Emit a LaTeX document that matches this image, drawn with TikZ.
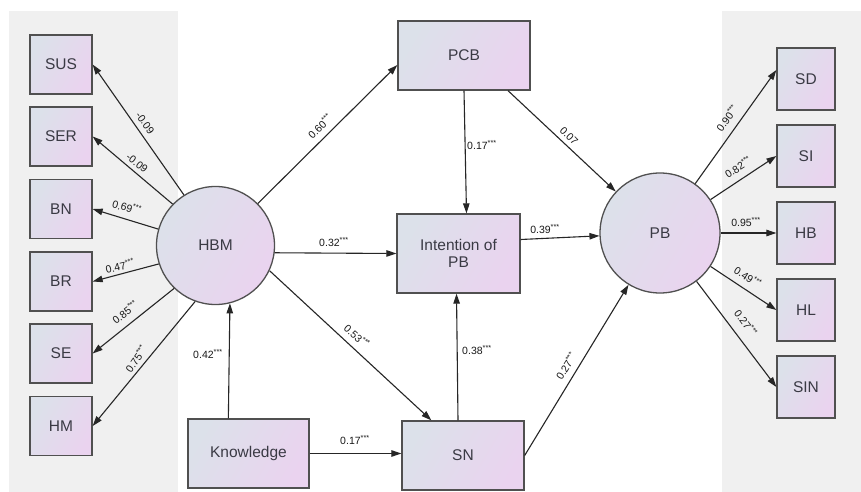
\documentclass[tikz,border=0pt]{standalone}
\usepackage{fontspec}
\setmainfont{Liberation Sans}
\usetikzlibrary{arrows.meta,calc}
\definecolor{panel}{HTML}{F0F0F0}
\definecolor{ca}{HTML}{DCE1EA}
\definecolor{cb}{HTML}{EAD3EF}
\definecolor{edgec}{HTML}{505050}
\definecolor{txt}{HTML}{3A3A44}
\newcommand{\st}{\textsuperscript{***}}
\begin{document}
\begin{tikzpicture}[x=1pt,y=-1pt,
  shapebase/.style={draw=edgec, line width=1.3pt, left color=ca, right color=cb, shading angle=60,
    inner sep=0pt, text=txt, align=center, font=\fontsize{15.5}{17}\selectfont},
  smallbox/.style={shapebase, rectangle, minimum width=62pt, minimum height=59pt},
  rbox/.style={shapebase, rectangle, minimum width=58pt, minimum height=62pt},
  bigbox/.style={shapebase, rectangle},
  lat/.style={shapebase, circle},
  arr/.style={draw=black!85, line width=1.1pt, -{Triangle[length=10pt,width=6.5pt]}},
  lbl/.style={inner sep=0.5pt, text=black!90, font=\fontsize{10.5}{11}\selectfont}]
\useasboundingbox (0,0) rectangle (861,492);
\fill[white] (0,0) rectangle (861,492);
\fill[panel] (9,11) rectangle (178,492);
\fill[panel] (722,11) rectangle (861,492);

% left indicators
\node[smallbox] (SUS) at (61,64.5) {SUS};
\node[smallbox] (SER) at (61,136.5) {SER};
\node[smallbox] (BN) at (61,209) {BN};
\node[smallbox] (BR) at (61,281.5) {BR};
\node[smallbox] (SE) at (61,353.5) {SE};
\node[smallbox] (HM) at (61,426) {HM};

% right indicators
\node[rbox] (SD) at (806,79) {SD};
\node[rbox] (SI) at (806,156) {SI};
\node[rbox] (HB) at (806,233) {HB};
\node[rbox] (HL) at (806,310) {HL};
\node[rbox] (SIN) at (806,387) {SIN};

% latent variables
\node[lat, minimum size=118pt] (HBM) at (215.5,245.5) {HBM};
\node[lat, minimum size=120pt] (PB) at (660,233) {PB};

% constructs
\node[bigbox, minimum width=132pt, minimum height=69pt] (PCB) at (464,55.5) {PCB};
\node[bigbox, minimum width=123pt, minimum height=79pt] (INT) at (458.5,253.5) {Intention of\\PB};
\node[bigbox, minimum width=121pt, minimum height=69pt] (KN) at (248.5,453.5) {Knowledge};
\node[bigbox, minimum width=122pt, minimum height=69pt] (SN) at (463,455.5) {SN};

% HBM -> indicators
\draw[arr] (HBM.122) -- (SUS.east);
\draw[arr] (HBM.136) -- (SER.east);
\draw[arr] (HBM.164) -- (BN.east);
\draw[arr] (HBM.198) -- (BR.east);
\draw[arr] (HBM.226) -- (SE.east);
\draw[arr] (HBM.250) -- (HM.east);

% structural paths
\draw[arr] (HBM) -- ($(PCB.west)+(0,9.5)$);
\draw[arr] (HBM.-7) -- (INT.west);
\draw[arr] (HBM.-25) -- ($(SN.north west)+(30,0)$);
\draw[arr] ($(KN.north west)+(41,0)$) -- (HBM.-76);
\draw[arr] (KN.east) -- (KN.east -| SN.west);
\draw[arr] ($(SN.north)+(-5,0)$) -- ($(INT.south)+(-2,0)$);
\draw[arr] (PCB.south) -- ($(INT.north)+(8,0)$);
\draw[arr] ($(PCB.south)+(44,0)$) -- (PB);
\draw[arr] ($(INT.east)+(0,-14)$) -- (PB);
\draw[arr] (SN.east) -- (PB);

% PB -> indicators
\draw[arr] (PB) -- ($(SD.west)+(0,-9)$);
\draw[arr] (PB) -- (SI.west);
\draw[arr] (PB) -- (HB.west);
\draw[arr] (PB) -- (HL.west);
\draw[arr] (PB) -- (SIN.west);

% labels
\node[lbl, rotate=-54] (lsus) at (145,123) {-0.09};
\node[lbl, rotate=-38] (lser) at (137,163) {-0.09};
\node[lbl, rotate=-15] (lbn) at (127,207) {0.69\st};
\node[lbl, rotate=13] (lbr) at (120,266) {0.47\st};
\node[lbl, rotate=38] (lse) at (125,312) {0.85\st};
\node[lbl, rotate=55] (lhm) at (136,359) {0.75\st};
\node[lbl, rotate=45] (lpcb) at (320,126) {0.60\st};
\node[lbl] (lpi) at (482,145) {0.17\st};
\node[lbl, rotate=-45] (lppb) at (569,136) {0.07};
\node[lbl] (lipb) at (545,229) {0.39\st};
\node[lbl] (lhi) at (334,242) {0.32\st};
\node[lbl, rotate=-42] (lhs) at (357,336) {0.53\st};
\node[lbl] (lkh) at (208,354) {0.42\st};
\node[lbl] (lks) at (355,440) {0.17\st};
\node[lbl] (lsi) at (477,350) {0.38\st};
\node[lbl, rotate=58] (lspb) at (566,366) {0.27\st};
\node[lbl, rotate=54] (lsd) at (727,118) {0.90\st};
\node[lbl, rotate=33] (lsi2) at (738,167) {0.82\st};
\node[lbl] (lhb) at (746,222) {0.95\st};
\node[lbl, rotate=-33] (lhl) at (748,277) {0.49\st};
\node[lbl, rotate=-54] (lsin) at (746,323) {0.27\st};
\end{tikzpicture}
\end{document}
